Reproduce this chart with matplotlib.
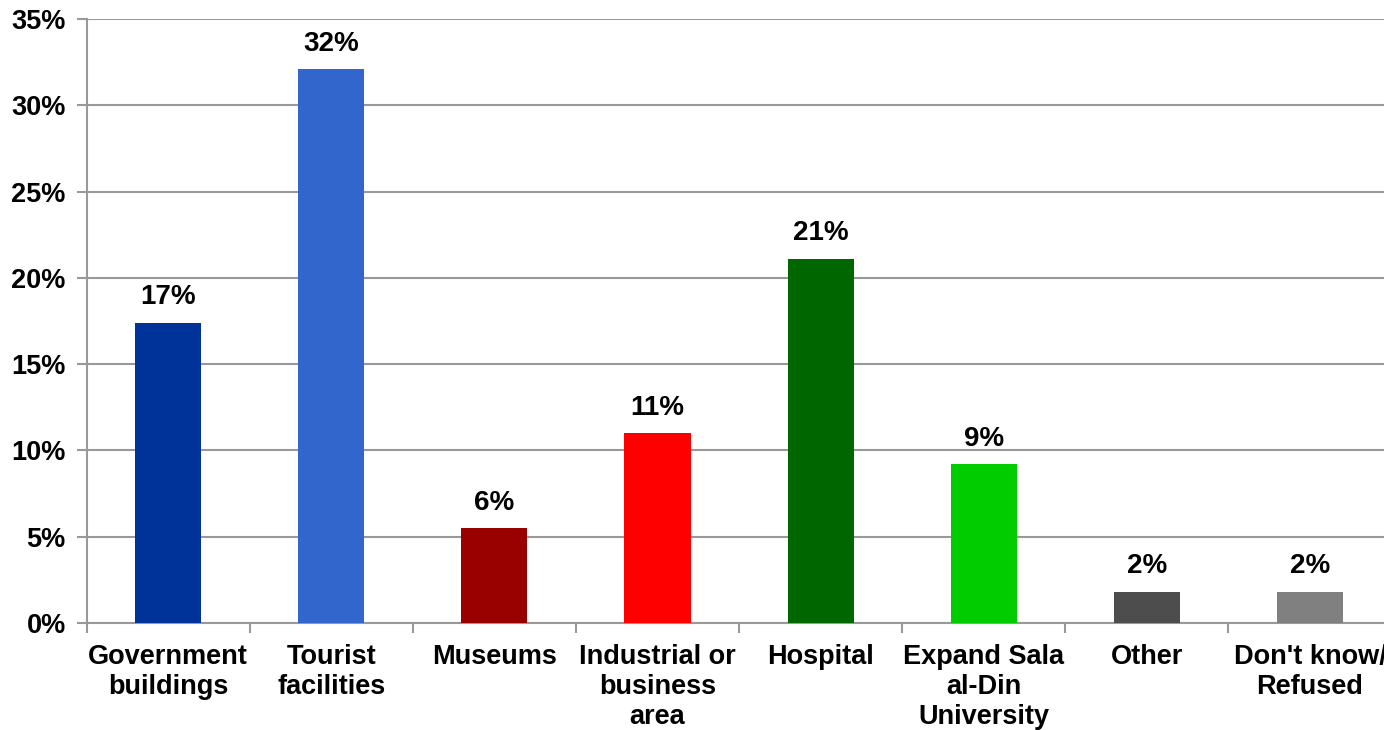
import matplotlib
matplotlib.use("Agg")
import matplotlib.pyplot as plt
import numpy as np

categories = ["Government\nbuildings", "Tourist\nfacilities", "Museums",
              "Industrial or\nbusiness\narea", "Hospital",
              "Expand Sala\nal-Din\nUniversity", "Other", "Don't know/\nRefused"]
values = [17.4, 32.1, 5.5, 11.0, 21.1, 9.2, 1.8, 1.8]
colors = ["#003399", "#3366CC", "#990000", "#FF0000", "#006600",
          "#00CC00", "#4D4D4D", "#808080"]
y_ticks = [0, 5, 10, 15, 20, 25, 30, 35]

plt.rcParams["font.family"] = ["Liberation Sans", "DejaVu Sans"]
plt.rcParams["font.weight"] = "bold"

fig = plt.figure(figsize=(13.84, 7.30), dpi=100)
ax = fig.add_axes([0.0625, 0.1466, 0.943, 0.8274])

x = np.arange(len(categories))
ax.bar(x, values, width=0.405, color=colors, zorder=3)

for xi, v in zip(x, values):
    ax.annotate(f"{int(v + 0.5)}%", (xi, v), xytext=(0, 9),
                textcoords="offset points", ha="center", va="bottom",
                fontsize=20, fontweight="bold")

ax.set_xlim(-0.5, len(categories) - 0.5)
ax.set_ylim(0, 35)
ax.set_yticks(y_ticks)
ax.set_yticklabels([f"{t}%" for t in y_ticks])
ax.yaxis.grid(True, color="#999999", linewidth=1.5, zorder=0)

ax.set_xticks(x)
ax.set_xticklabels(categories, fontsize=19.5, fontweight="bold", linespacing=1.2)
ax.set_xticks(np.arange(-0.5, len(categories)), minor=True)
ax.tick_params(axis="x", which="major", length=0, pad=15)
ax.tick_params(axis="x", which="minor", length=7, width=1.5, color="#999999")
ax.tick_params(axis="y", length=7, width=1.5, color="#999999", labelsize=19.5, pad=8)

for side in ["top", "right"]:
    ax.spines[side].set_visible(False)
for side in ["left", "bottom"]:
    ax.spines[side].set_color("#999999")
    ax.spines[side].set_linewidth(1.5)

fig.savefig("out.png", dpi=100)
